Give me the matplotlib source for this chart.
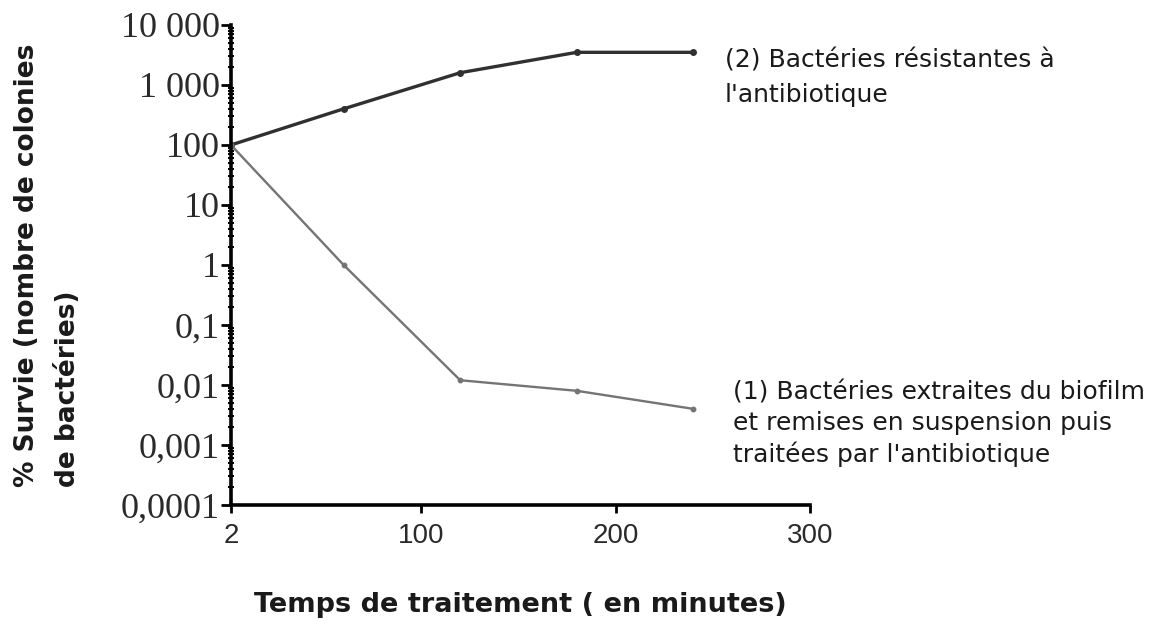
# courbes de survie des bactéries traitées par l'antibiotique
# (échelle logarithmique en ordonnée)

import matplotlib
matplotlib.use('Agg')
import matplotlib.pyplot as plt
import matplotlib.ticker as ticker

# données
temps = [2, 60, 120, 180, 240]
survie_resistantes = [100, 400, 1600, 3500, 3500]
survie_biofilm = [100, 1, 0.012, 0.008, 0.004]

yticks = [0.0001, 0.001, 0.01, 0.1, 1, 10, 100, 1000, 10000]
ytick_labels = ['0,0001', '0,001', '0,01', '0,1', '1', '10', '100', '1 000', '10 000']
xticks = [2, 100, 200, 300]
xtick_labels = ['2', '100', '200', '300']

legende_2 = "(2) Bactéries résistantes à\nl'antibiotique"
legende_1 = "(1) Bactéries extraites du biofilm\net remises en suspension puis\ntraitées par l'antibiotique"

noir = '#1a1a1a'

fig = plt.figure(figsize=(11.6, 6.24), dpi=100)
ax = fig.add_axes([0.1991, 0.1907, 0.4991, 0.7693])

ax.plot(temps, survie_resistantes, color='#303030', lw=2.4, marker='o', ms=4)
ax.plot(temps, survie_biofilm, color='#747474', lw=1.7, marker='o', ms=3.2)

ax.set_yscale('log')
ax.set_ylim(0.0001, 10000)
ax.set_xlim(2, 300)

ax.set_yticks(yticks, ytick_labels)
ax.yaxis.set_minor_locator(ticker.LogLocator(base=10, subs=range(2, 10), numticks=20))
ax.yaxis.set_minor_formatter(ticker.NullFormatter())
ax.set_xticks(xticks, xtick_labels)

for lab in ax.get_yticklabels():
    lab.set_fontfamily('Liberation Serif')
    lab.set_fontsize(26)
    lab.set_color('#2a2a2a')
for lab in ax.get_xticklabels():
    lab.set_fontfamily('Liberation Sans')
    lab.set_fontsize(20)
    lab.set_color('#2a2a2a')

ax.tick_params(axis='y', which='major', direction='out', length=7, width=2, pad=1)
ax.tick_params(axis='y', which='minor', direction='inout', length=5, width=1.5)
ax.tick_params(axis='x', which='major', direction='out', length=6, width=2, pad=7)

ax.spines['top'].set_visible(False)
ax.spines['right'].set_visible(False)
ax.spines['left'].set_linewidth(2.6)
ax.spines['bottom'].set_linewidth(2.6)

fig.text(0.4487, 1 - 605 / 624, 'Temps de traitement ( en minutes)', ha='center', va='center',
         fontsize=19.5, fontweight='bold', color=noir)
fig.text(0.041, 0.2196, '% Survie (nombre de colonies\nde bactéries)', rotation=90,
         ha='center', va='bottom', multialignment='left', linespacing=1.75,
         fontsize=19, fontweight='bold', color=noir)

# étiquettes des courbes
fig.text(725 / 1160, 1 - 78 / 624, legende_2, ha='left', va='center', fontsize=18,
         linespacing=1.55, color=noir)
fig.text(733 / 1160, 1 - 424 / 624, legende_1, ha='left', va='center', fontsize=18,
         linespacing=1.32, color=noir)

fig.savefig('out.png', dpi=100)
